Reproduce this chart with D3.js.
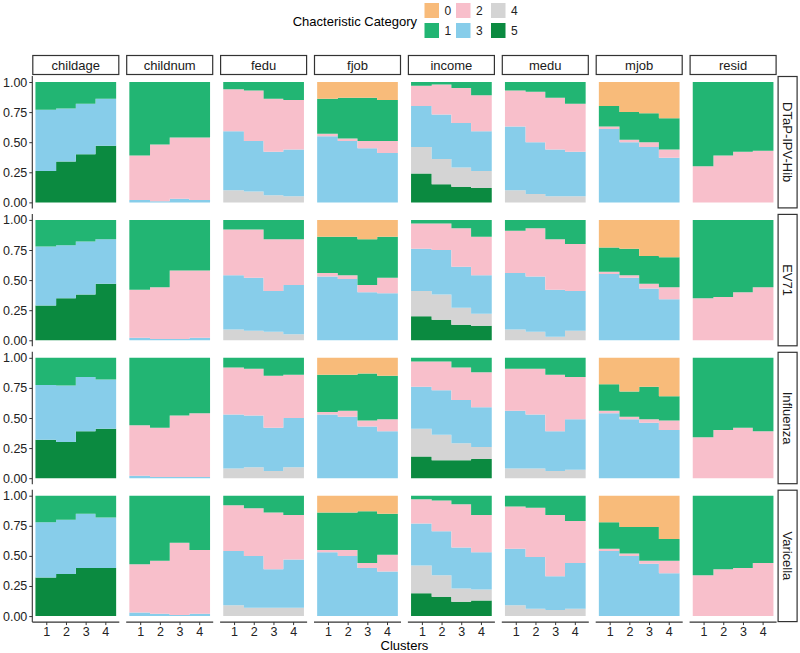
<!DOCTYPE html>
<html>
<head>
<meta charset="utf-8">
<script src="https://cdn.jsdelivr.net/npm/d3@7"></script>
<style>
  body { margin: 0; background: #fff; }
  text { font-family: "Liberation Sans", Arial, sans-serif; }
</style>
</head>
<body>
<svg id="chart" width="800" height="653"></svg>
<script>
var categories = ["0", "1", "2", "3", "4", "5"];
var colours = ["#f8bb7a", "#22b573", "#f8bfcb", "#87cdea", "#d4d4d4", "#0b8a40"];
var variables = ["childage", "childnum", "fedu", "fjob", "income", "medu", "mjob", "resid"];
var vaccines = ["DTaP-IPV-Hib", "EV71", "Influenza", "Varicella"];
var clusters = [1, 2, 3, 4];
var yTicks = [0, 0.25, 0.5, 0.75, 1];

// [variable, category, cluster 1, 2, 3, 4] -- share of each category
var dtapShares = [
  ["childage", "5", .26, .34, .40, .47], ["childage", "3", .51, .44, .42, .39], ["childage", "1", .23, .22, .18, .14],
  ["childnum", "3", .02, .01, .03, .02], ["childnum", "2", .37, .47, .51, .52], ["childnum", "1", .61, .52, .46, .46],
  ["fedu", "4", .10, .09, .06, .05], ["fedu", "3", .49, .42, .36, .39], ["fedu", "2", .35, .42, .44, .41], ["fedu", "1", .06, .07, .14, .15],
  ["fjob", "3", .55, .51, .45, .41], ["fjob", "2", .02, .02, .06, .10], ["fjob", "1", .29, .34, .36, .34], ["fjob", "0", .14, .13, .13, .15],
  ["income", "5", .24, .15, .13, .12], ["income", "4", .22, .21, .16, .14], ["income", "3", .34, .37, .37, .33], ["income", "2", .17, .25, .29, .30], ["income", "1", .03, .02, .05, .11],
  ["medu", "4", .10, .07, .05, .05], ["medu", "3", .53, .43, .39, .37], ["medu", "2", .30, .42, .43, .40], ["medu", "1", .07, .08, .13, .18],
  ["mjob", "3", .61, .50, .46, .37], ["mjob", "2", .02, .02, .04, .07], ["mjob", "1", .17, .23, .24, .26], ["mjob", "0", .20, .25, .26, .30],
  ["resid", "2", .30, .39, .42, .43], ["resid", "1", .70, .61, .58, .57]
];
var ev71Shares = [
  ["childage", "5", .29, .35, .38, .47], ["childage", "3", .49, .44, .44, .37], ["childage", "1", .22, .21, .18, .16],
  ["childnum", "3", .02, .01, .01, .02], ["childnum", "2", .40, .43, .57, .56], ["childnum", "1", .58, .56, .42, .42],
  ["fedu", "4", .09, .08, .07, .05], ["fedu", "3", .45, .44, .34, .41], ["fedu", "2", .38, .40, .43, .38], ["fedu", "1", .08, .08, .16, .16],
  ["fjob", "3", .53, .51, .40, .39], ["fjob", "2", .03, .03, .06, .13], ["fjob", "1", .30, .32, .38, .34], ["fjob", "0", .14, .14, .16, .14],
  ["income", "5", .20, .17, .13, .12], ["income", "4", .21, .21, .14, .10], ["income", "3", .35, .37, .34, .32], ["income", "2", .21, .22, .32, .32], ["income", "1", .03, .03, .07, .14],
  ["medu", "4", .09, .07, .03, .08], ["medu", "3", .47, .46, .39, .33], ["medu", "2", .35, .40, .42, .39], ["medu", "1", .09, .07, .16, .20],
  ["mjob", "3", .55, .52, .43, .34], ["mjob", "2", .02, .02, .04, .10], ["mjob", "1", .20, .22, .23, .25], ["mjob", "0", .23, .24, .30, .31],
  ["resid", "2", .35, .36, .40, .44], ["resid", "1", .65, .64, .60, .56]
];
var influenzaShares = [
  ["childage", "5", .32, .30, .39, .41], ["childage", "3", .455, .47, .45, .41], ["childage", "1", .225, .23, .16, .18],
  ["childnum", "3", .02, .01, .01, .01], ["childnum", "2", .42, .41, .51, .53], ["childnum", "1", .56, .58, .48, .46],
  ["fedu", "4", .08, .09, .06, .09], ["fedu", "3", .45, .43, .36, .41], ["fedu", "2", .39, .39, .43, .36], ["fedu", "1", .08, .09, .15, .14],
  ["fjob", "3", .53, .51, .43, .39], ["fjob", "2", .02, .05, .05, .10], ["fjob", "1", .31, .30, .39, .36], ["fjob", "0", .14, .14, .13, .15],
  ["income", "5", .18, .15, .15, .16], ["income", "4", .23, .21, .14, .10], ["income", "3", .35, .37, .36, .33], ["income", "2", .21, .24, .27, .29], ["income", "1", .03, .03, .08, .12],
  ["medu", "4", .08, .08, .06, .07], ["medu", "3", .48, .45, .33, .42], ["medu", "2", .35, .38, .47, .35], ["medu", "1", .09, .09, .14, .16],
  ["mjob", "3", .54, .49, .46, .40], ["mjob", "2", .02, .02, .03, .08], ["mjob", "1", .22, .21, .27, .20], ["mjob", "0", .22, .28, .24, .32],
  ["resid", "2", .34, .40, .42, .39], ["resid", "1", .66, .60, .58, .61]
];
var varicellaShares = [
  ["childage", "5", .32, .35, .40, .40], ["childage", "3", .46, .45, .45, .42], ["childage", "1", .22, .20, .15, .18],
  ["childnum", "3", .03, .02, .01, .02], ["childnum", "2", .40, .44, .60, .53], ["childnum", "1", .57, .54, .39, .45],
  ["fedu", "4", .09, .07, .07, .07], ["fedu", "3", .45, .43, .32, .40], ["fedu", "2", .38, .395, .47, .37], ["fedu", "1", .08, .105, .14, .16],
  ["fjob", "3", .53, .50, .40, .37], ["fjob", "2", .02, .05, .04, .14], ["fjob", "1", .31, .31, .43, .34], ["fjob", "0", .14, .14, .13, .15],
  ["income", "5", .19, .16, .12, .13], ["income", "4", .23, .18, .11, .09], ["income", "3", .35, .365, .34, .31], ["income", "2", .20, .255, .36, .31], ["income", "1", .03, .04, .07, .16],
  ["medu", "4", .09, .06, .05, .06], ["medu", "3", .47, .43, .28, .38], ["medu", "2", .35, .41, .51, .35], ["medu", "1", .09, .10, .16, .21],
  ["mjob", "3", .54, .50, .435, .355], ["mjob", "2", .02, .02, .025, .105], ["mjob", "1", .22, .22, .28, .18], ["mjob", "0", .22, .26, .26, .36],
  ["resid", "2", .34, .39, .40, .44], ["resid", "1", .66, .61, .60, .56]
];
var sharesByVaccine = [dtapShares, ev71Shares, influenzaShares, varicellaShares];

var svg = d3.select("#chart");
var panelW = 87, panelH = 132.4, colStep = 93.9, rowStep = 137.9;
var left0 = 32.3, top0 = 76;
var halfBar = 0.55;

var colour = d3.scaleOrdinal().domain(categories).range(colours);
var x = d3.scaleLinear().domain([0.29, 4.71]).range([0, panelW]);
var y = d3.scaleLinear().domain([-0.05, 1.05]).range([panelH, 0]);

var stack = d3.stack()
  .keys(categories.slice().reverse())
  .value(function(d, key) { return d[key] || 0; })
  .offset(d3.stackOffsetExpand);

var area = d3.area()
  .curve(d3.curveStepAfter)
  .x(function(p) { return x(p.x); })
  .y0(function(p) { return y(p.y0); })
  .y1(function(p) { return y(p.y1); });

vaccines.forEach(function(vac, i) {
  var rows = sharesByVaccine[i];
  variables.forEach(function(v, j) {
    var table = clusters.map(function(c, k) {
      var o = { cluster: c };
      rows.filter(function(r) { return r[0] === v; })
        .forEach(function(r) { o[r[1]] = r[2 + k]; });
      return o;
    });
    var g = svg.append("g")
      .attr("transform", "translate(" + (left0 + j * colStep) + "," + (top0 + i * rowStep) + ")");

    stack(table).forEach(function(s) {
      var pts = s.map(function(d, k) {
        return { x: k === 0 ? clusters[0] - halfBar : clusters[k] - 0.5, y0: d[0], y1: d[1] };
      });
      var last = s[s.length - 1];
      pts.push({ x: clusters[clusters.length - 1] + halfBar, y0: last[0], y1: last[1] });
      g.append("path")
        .attr("d", area(pts))
        .attr("fill", colour(s.key));
    });

    // left axis on first column
    if (j === 0) {
      var ya = g.append("g")
        .call(d3.axisLeft(y).tickValues(yTicks).tickSize(3).tickPadding(2).tickFormat(d3.format(".2f")));
      ya.select(".domain").attr("d", "M0,0V" + panelH).attr("stroke", "#333").attr("stroke-width", 1.1);
      ya.selectAll(".tick line").attr("stroke", "#333");
      ya.selectAll("text").attr("font-size", 12.5).attr("fill", "#222")
        .style("font-family", '"Liberation Sans", Arial, sans-serif');
    }
    // bottom axis on last row
    if (i === vaccines.length - 1) {
      var xa = g.append("g")
        .attr("transform", "translate(0," + panelH + ")")
        .call(d3.axisBottom(x).tickValues(clusters).tickSize(3).tickPadding(2).tickFormat(d3.format("d")));
      xa.select(".domain").attr("d", "M0,0H" + panelW).attr("stroke", "#333").attr("stroke-width", 1.1);
      xa.selectAll(".tick line").attr("stroke", "#333");
      xa.selectAll("text").attr("font-size", 12.5).attr("fill", "#222")
        .style("font-family", '"Liberation Sans", Arial, sans-serif');
    }
  });

  // right strip
  var sx = left0 + 7 * colStep + panelW + 1, sy = top0 + i * rowStep;
  svg.append("rect")
    .attr("x", sx + 0.5).attr("y", sy + 0.5)
    .attr("width", 19).attr("height", panelH - 1)
    .attr("fill", "#fff").attr("stroke", "#333").attr("stroke-width", 1.2);
  svg.append("text")
    .attr("transform", "translate(" + (sx + 10) + "," + (sy + panelH / 2) + ") rotate(90)")
    .attr("text-anchor", "middle").attr("dy", "0.35em")
    .attr("font-size", 13).attr("fill", "#1a1a1a")
    .text(vac);
});

// top strips
variables.forEach(function(v, j) {
  var sx = left0 + j * colStep;
  svg.append("rect")
    .attr("x", sx + 0.5).attr("y", 55.5)
    .attr("width", panelW - 1).attr("height", 19)
    .attr("fill", "#fff").attr("stroke", "#333").attr("stroke-width", 1.2);
  svg.append("text")
    .attr("x", sx + panelW / 2).attr("y", 65).attr("dy", "0.35em")
    .attr("text-anchor", "middle").attr("font-size", 13).attr("fill", "#1a1a1a")
    .text(v);
});

// axis title
svg.append("text")
  .attr("x", left0 + (7 * colStep + panelW) / 2).attr("y", 645).attr("dy", "0.35em")
  .attr("text-anchor", "middle").attr("font-size", 13).attr("fill", "#000")
  .text("Clusters");

// legend
var legend = svg.append("g");
legend.append("text")
  .attr("x", 417).attr("y", 21).attr("dy", "0.35em")
  .attr("text-anchor", "end").attr("font-size", 13).attr("fill", "#000")
  .text("Chacteristic Category");
var legendX = [424.5, 456, 491];
categories.forEach(function(c, k) {
  var col = Math.floor(k / 2), row = k % 2;
  var lx = legendX[col], ly = 3 + row * 20;
  legend.append("rect")
    .attr("x", lx).attr("y", ly).attr("width", 14.5).attr("height", 15)
    .attr("fill", colour(c));
  legend.append("text")
    .attr("x", lx + 20).attr("y", ly + 7.5).attr("dy", "0.35em")
    .attr("font-size", 12).attr("fill", "#222")
    .text(c);
});
</script>
</body>
</html>
